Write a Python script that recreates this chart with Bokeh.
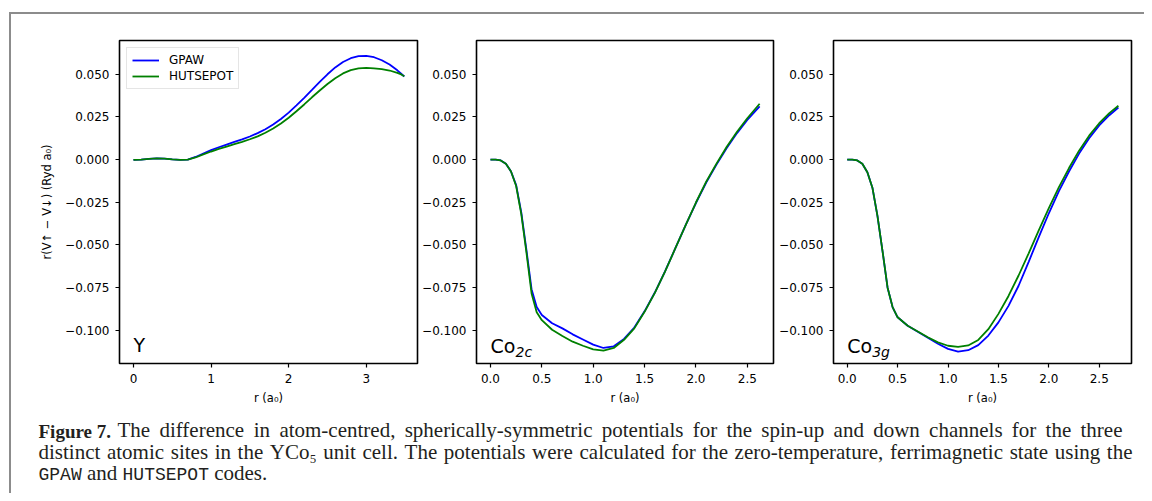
from bokeh.plotting import figure
from bokeh.layouts import column, row
from bokeh.models import (Range1d, FixedTicker, CustomJSTickFormatter, Label,
                          Legend, LegendItem, PrintfTickFormatter)
from bokeh.embed import file_html
from bokeh.resources import INLINE

# ---------------- data ----------------
# Panel Y
r_y = [0.0, 0.1, 0.2, 0.3, 0.4, 0.5, 0.6, 0.7, 0.8, 0.9, 1.0, 1.1, 1.2, 1.3, 1.4,
       1.5, 1.6, 1.7, 1.8, 1.9, 2.0, 2.1, 2.2, 2.3, 2.4, 2.5, 2.6, 2.7, 2.8, 2.9,
       3.0, 3.1, 3.2, 3.3, 3.4, 3.45, 3.49]
gpaw_y = [-0.0002, 0.0000, 0.0004, 0.0007, 0.0005, 0.0001, -0.0002, 0.0000, 0.0015,
          0.0035, 0.0055, 0.0072, 0.0088, 0.0103, 0.0118, 0.0135, 0.0155, 0.0178,
          0.0205, 0.0238, 0.0275, 0.0318, 0.0362, 0.0408, 0.0455, 0.0500, 0.0540,
          0.0572, 0.0594, 0.0606, 0.0608, 0.0600, 0.0582, 0.0557, 0.0523, 0.0503, 0.0487]
huts_y = [-0.0002, 0.0000, 0.0004, 0.0007, 0.0005, 0.0001, -0.0002, 0.0000, 0.0012,
          0.0030, 0.0047, 0.0062, 0.0076, 0.0090, 0.0104, 0.0119, 0.0136, 0.0157,
          0.0182, 0.0211, 0.0245, 0.0283, 0.0323, 0.0365, 0.0405, 0.0443, 0.0477,
          0.0505, 0.0524, 0.0534, 0.0537, 0.0535, 0.0530, 0.0522, 0.0508, 0.0499, 0.0488]

# Panel Co2c
r_c = [0.0, 0.05, 0.10, 0.15, 0.20, 0.25, 0.30, 0.35, 0.40, 0.45, 0.50, 0.60, 0.70,
       0.80, 0.90, 1.00, 1.10, 1.20, 1.30, 1.40, 1.50, 1.60, 1.70, 1.80, 1.90, 2.00,
       2.10, 2.20, 2.30, 2.40, 2.50, 2.62]
gpaw_c = [0.0, 0.0, -0.0005, -0.0025, -0.0070, -0.0150, -0.0310, -0.0530, -0.0760,
          -0.0865, -0.0912, -0.0960, -0.0990, -0.1025, -0.1055, -0.1085, -0.1105,
          -0.1095, -0.1052, -0.0985, -0.0890, -0.0780, -0.0655, -0.0520, -0.0385,
          -0.0255, -0.0135, -0.0030, 0.0068, 0.0155, 0.0232, 0.0312]
huts_c = [0.0, 0.0, -0.0005, -0.0025, -0.0070, -0.0155, -0.0320, -0.0545, -0.0785,
          -0.0895, -0.0942, -0.0998, -0.1035, -0.1068, -0.1092, -0.1113, -0.1120,
          -0.1105, -0.1057, -0.0990, -0.0893, -0.0782, -0.0656, -0.0520, -0.0384,
          -0.0252, -0.0130, -0.0024, 0.0075, 0.0163, 0.0242, 0.0327]

# Panel Co3g
r_g = [0.0, 0.05, 0.10, 0.15, 0.20, 0.25, 0.30, 0.35, 0.40, 0.45, 0.50, 0.60, 0.70,
       0.80, 0.90, 1.00, 1.10, 1.20, 1.30, 1.40, 1.50, 1.60, 1.70, 1.80, 1.90, 2.00,
       2.10, 2.20, 2.30, 2.40, 2.50, 2.60, 2.69]
gpaw_g = [0.0, 0.0, -0.0005, -0.0025, -0.0075, -0.0165, -0.0330, -0.0535, -0.0750,
          -0.0865, -0.0925, -0.0975, -0.1010, -0.1045, -0.1080, -0.1110, -0.1126,
          -0.1118, -0.1088, -0.1032, -0.0955, -0.0858, -0.0740, -0.0600, -0.0455,
          -0.0315, -0.0185, -0.0070, 0.0035, 0.0125, 0.0200, 0.0260, 0.0305]
huts_g = [0.0, 0.0, -0.0005, -0.0025, -0.0075, -0.0165, -0.0330, -0.0535, -0.0750,
          -0.0865, -0.0925, -0.0975, -0.1008, -0.1042, -0.1072, -0.1092, -0.1098,
          -0.1090, -0.1058, -0.0995, -0.0905, -0.0800, -0.0680, -0.0550, -0.0415,
          -0.0285, -0.0162, -0.0050, 0.0052, 0.0140, 0.0213, 0.0272, 0.0315]

y_ticks = [-0.100, -0.075, -0.050, -0.025, 0.000, 0.025, 0.050]
x_ticks_y = [0, 1, 2, 3]
x_ticks_co = [0.0, 0.5, 1.0, 1.5, 2.0, 2.5]
series_names = ["GPAW", "HUTSEPOT"]
series_colors = ["#0000ff", "#008000"]

caption_line1 = ("The difference in atom-centred, spherically-symmetric potentials "
                 "for the spin-up and down channels for the three")
caption_line2 = ("distinct atomic sites in the YCo₅ unit cell. The potentials were "
                 "calculated for the zero-temperature, ferrimagnetic state using the")

y_range = Range1d(-0.1196, 0.0698)
FONT = "DejaVu Sans"


def make_panel(width, border_left, border_right, xr, xticks, xfmt, r, g, h,
               ylabel=None):
    p = figure(width=width, height=394, x_range=Range1d(*xr), y_range=y_range,
               output_backend="svg", toolbar_location=None,
               min_border_left=border_left, min_border_right=border_right,
               min_border_top=26, min_border_bottom=45)
    p.xgrid.visible = False
    p.ygrid.visible = False
    p.outline_line_color = "black"
    p.outline_line_width = 1.6
    p.outline_line_alpha = 1.0
    p.background_fill_color = "white"
    p.border_fill_color = "white"
    for ax in (p.xaxis[0], p.yaxis[0]):
        ax.axis_line_color = None
        ax.major_tick_line_color = "black"
        ax.major_tick_line_width = 1.2
        ax.major_tick_in = 0
        ax.major_tick_out = 4
        ax.minor_tick_line_color = None
        ax.major_label_text_font = FONT
        ax.major_label_text_font_size = "12px"
        ax.major_label_text_color = "black"
        ax.major_label_standoff = 6
        ax.axis_label_text_font = FONT
        ax.axis_label_text_font_size = "11.5px"
        ax.axis_label_text_font_style = "normal"
        ax.axis_label_text_color = "black"
    p.xaxis.ticker = FixedTicker(ticks=xticks)
    p.xaxis.formatter = PrintfTickFormatter(format=xfmt)
    p.xaxis.axis_label = "r (a₀)"
    p.xaxis.axis_label_standoff = 5
    p.yaxis.ticker = FixedTicker(ticks=y_ticks)
    p.yaxis.formatter = CustomJSTickFormatter(
        code="return (tick < -1e-9 ? '\u2212' : '') + Math.abs(tick).toFixed(3);")
    if ylabel:
        p.yaxis.axis_label = ylabel
        p.yaxis.axis_label_standoff = 8
    l1 = p.line(r, g, line_color=series_colors[0], line_width=1.8)
    l2 = p.line(r, h, line_color=series_colors[1], line_width=1.8)
    return p, l1, l2


p1, a1, b1 = make_panel(408, 108, 2, (-0.18, 3.66), x_ticks_y, "%d", r_y, gpaw_y,
                        huts_y, ylabel="r(V↑ − V↓) (Ryd a₀)")
p2, a2, b2 = make_panel(357, 57, 3, (-0.136, 2.755), x_ticks_co, "%.1f", r_c,
                        gpaw_c, huts_c)
p3, a3, b3 = make_panel(368, 57, 13, (-0.136, 2.82), x_ticks_co, "%.1f", r_g,
                        gpaw_g, huts_g)

legend = Legend(items=[LegendItem(label=series_names[0], renderers=[a1]),
                       LegendItem(label=series_names[1], renderers=[b1])],
                location="top_left", margin=7, padding=5, spacing=2,
                glyph_width=27, glyph_height=14, label_height=14,
                label_standoff=10, label_text_font=FONT,
                label_text_font_size="12px", label_text_color="black",
                border_line_color="#cccccc", border_line_width=1,
                background_fill_alpha=0.8)
p1.add_layout(legend)

# panel labels
p1.add_layout(Label(x=0, y=-0.1150, text="Y", text_font=FONT,
                    text_font_size="19px", text_color="black"))
for p, sub in ((p2, "2c"), (p3, "3g")):
    p.add_layout(Label(x=0, y=-0.1160, text="Co", text_font=FONT,
                       text_font_size="19px", text_color="black"))
    p.add_layout(Label(x=0, y=-0.1160, x_offset=25, y_offset=-3, text=sub,
                       text_font=FONT, text_font_size="14px",
                       text_font_style="italic", text_color="black"))

# ---------------- caption ----------------
# Times-compatible advance widths (Liberation Serif), per 1000 em
TW = dict(zip("abcdefghijklmnopqrstuvwxyz",
              [444, 500, 444, 500, 444, 333, 500, 500, 278, 278, 500, 278, 778, 500,
               500, 500, 500, 333, 389, 278, 500, 500, 722, 500, 500, 444]))
TW.update(dict(zip("ABCDEFGHIJKLMNOPQRSTUVWXYZ",
                   [722, 667, 667, 722, 611, 556, 722, 722, 333, 389, 722, 611, 889,
                    722, 722, 556, 722, 667, 556, 611, 722, 722, 944, 722, 722, 611])))
TW.update({" ": 250, ",": 250, ".": 250, "-": 333, "₅": 333})


def tw(s, size):
    return sum(TW.get(c, 500) for c in s) / 1000.0 * size


SERIF = "Liberation Serif"
MONO = "Liberation Mono"
CC = "#231f20"
FS = 21
MS = 18

cap = figure(width=1133, height=85, x_range=Range1d(0, 1133), y_range=Range1d(0, 85),
             output_backend="svg", toolbar_location=None, min_border=0,
             x_axis_type=None, y_axis_type=None)
cap.xgrid.visible = False
cap.ygrid.visible = False
cap.outline_line_color = None


def put(txt, sx, sy, fnt=SERIF, sty="normal", size=FS):
    cap.add_layout(Label(x=sx, y=sy, x_units="screen", y_units="screen", text=txt,
                         text_font=fnt, text_font_style=sty,
                         text_font_size=f"{size}px", text_color=CC))


def justify(text, x0, x1, sy):
    words = text.split(" ")
    total = sum(tw(w, FS) for w in words)
    gap = (x1 - x0 - total) / (len(words) - 1)
    x = x0
    for w in words:
        put(w, x, sy)
        x += tw(w, FS) + gap


put("Figure 7.", 27, 52, sty="bold", size=19)
justify(caption_line1, 106, 1111, 52)
justify(caption_line2, 27, 1121, 30)
x = 27
for txt, fnt in (("GPAW", MONO), ("and", SERIF), ("HUTSEPOT", MONO), ("codes.", SERIF)):
    put(txt, x, 9, fnt=fnt, size=MS if fnt == MONO else FS)
    x += (len(txt) * 0.6 * MS if fnt == MONO else tw(txt, FS)) + tw(" ", FS)

layout = column(row(p1, p2, p3), cap,
                styles={"border-top": "2px solid #8c8c8c",
                        "border-left": "2px solid #8c8c8c"},
                margin=(12, 0, 0, 9))

open("out.html", "w").write(file_html(layout, INLINE))
